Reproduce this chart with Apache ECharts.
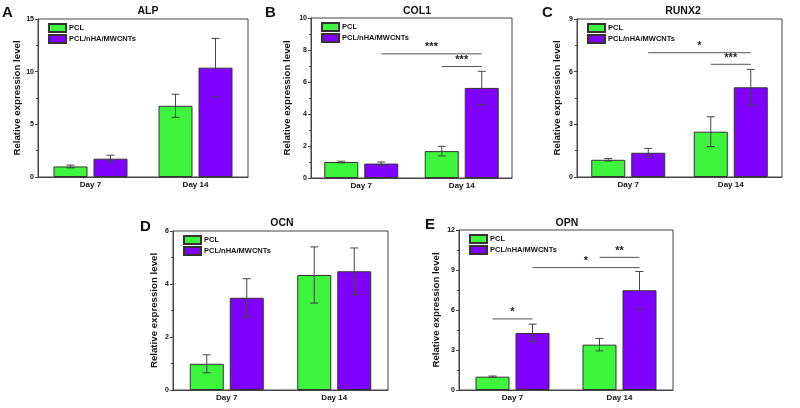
<!DOCTYPE html>
<html><head><meta charset="utf-8">
<script src="https://cdn.jsdelivr.net/npm/echarts@6/dist/echarts.min.js"></script>
<style>html,body{margin:0;padding:0;background:#fff}#c{width:800px;height:408px}</style>
</head><body><div id="c"></div>
<script>
// ---- data ----
const categories = ['Day 7', 'Day 14'];
const seriesNames = ['PCL', 'PCL/nHA/MWCNTs'];
const panelLetters = ['A', 'B', 'C', 'D', 'E'];
const panelTitles = ['ALP', 'COL1', 'RUNX2', 'OCN', 'OPN'];
const yAxisName = 'Relative expression level';

const alpPCL = [1.0, 6.76],   alpPCLErr = [0.13, 1.10];
const alpNano = [1.74, 10.38], alpNanoErr = [0.33, 2.78];
const col1PCL = [1.0, 1.68],  col1PCLErr = [0.05, 0.30];
const col1Nano = [0.90, 5.63], col1NanoErr = [0.10, 1.04];
const runx2PCL = [0.98, 2.58], runx2PCLErr = [0.07, 0.85];
const runx2Nano = [1.38, 5.11], runx2NanoErr = [0.25, 1.02];
const ocnPCL = [0.99, 4.34],  ocnPCLErr = [0.34, 1.06];
const ocnNano = [3.48, 4.48], ocnNanoErr = [0.72, 0.88];
const opnPCL = [1.0, 3.40],   opnPCLErr = [0.05, 0.47];
const opnNano = [4.28, 7.48], opnNanoErr = [0.66, 1.41];

const yMax = [15, 10, 9, 6, 12];
const yInterval = [5, 2, 3, 2, 3];

// significance brackets: a/b = [categoryIndex, seriesIndex]
const alpSig = [];
const col1Sig = [
  { a: [0, 1], b: [1, 1], y: 7.76, text: '***' },
  { a: [1, 0], b: [1, 1], y: 6.97, text: '***' }
];
const runx2Sig = [
  { a: [0, 1], b: [1, 1], y: 7.08, text: '*' },
  { a: [1, 0], b: [1, 1], y: 6.42, text: '***' }
];
const ocnSig = [];
const opnSig = [
  { a: [0, 0], b: [0, 1], y: 5.33, text: '*' },
  { a: [0, 1], b: [1, 1], y: 9.18, text: '*' },
  { a: [1, 0], b: [1, 1], y: 9.95, text: '**' }
];

// ---- layout / style ----
const panelData = [
  { pcl: alpPCL, pclErr: alpPCLErr, nano: alpNano, nanoErr: alpNanoErr, sig: alpSig },
  { pcl: col1PCL, pclErr: col1PCLErr, nano: col1Nano, nanoErr: col1NanoErr, sig: col1Sig },
  { pcl: runx2PCL, pclErr: runx2PCLErr, nano: runx2Nano, nanoErr: runx2NanoErr, sig: runx2Sig },
  { pcl: ocnPCL, pclErr: ocnPCLErr, nano: ocnNano, nanoErr: ocnNanoErr, sig: ocnSig },
  { pcl: opnPCL, pclErr: opnPCLErr, nano: opnNano, nanoErr: opnNanoErr, sig: opnSig }
];
const layout = [
  { left: 38,  top: 19,  width: 210, height: 158, nameGap: 15, letter: [2, 5],    title: [148, 6] },
  { left: 311, top: 18,  width: 201, height: 160, nameGap: 19, letter: [265, 5],  title: [417, 6] },
  { left: 577, top: 19,  width: 205, height: 158, nameGap: 15, letter: [542, 5],  title: [683, 6] },
  { left: 173, top: 231, width: 215, height: 159, nameGap: 14, letter: [140, 219], title: [282, 218] },
  { left: 459, top: 230, width: 214, height: 160, nameGap: 18, letter: [425, 217], title: [567, 218] }
];
const FONT = "'Liberation Sans', Arial, sans-serif";
const GREEN = '#3cf53c', PURPLE = '#8000ff';
const BAR_W = 34, BAR_GAP = 6;
const colors = [GREEN, PURPLE];
const barOffset = (k) => (k - 0.5) * (BAR_W + BAR_GAP);

const grid = [], xAxis = [], yAxis = [], series = [], legend = [], graphic = [];

layout.forEach((L, p) => {
  const D = panelData[p];
  grid.push({ left: L.left, top: L.top, width: L.width, height: L.height, show: true,
    borderColor: '#444', borderWidth: 1, backgroundColor: 'transparent' });
  xAxis.push({ gridIndex: p, type: 'category', data: categories,
    axisLine: { lineStyle: { color: '#444', width: 1 } },
    axisTick: { alignWithLabel: true, length: 3, lineStyle: { color: '#444' } },
    axisLabel: { color: '#111', fontFamily: FONT, fontWeight: 'bold', fontSize: 8, margin: 4 } });
  yAxis.push({ gridIndex: p, type: 'value', min: 0, max: yMax[p], interval: yInterval[p],
    name: yAxisName, nameLocation: 'middle', nameGap: L.nameGap, nameRotate: 90,
    nameTextStyle: { color: '#111', fontFamily: FONT, fontWeight: 'bold', fontSize: 9.7 },
    axisLine: { show: true, lineStyle: { color: '#444', width: 1 } },
    axisTick: { show: true, length: 3, lineStyle: { color: '#444' } },
    minorTick: { show: true, splitNumber: 2, length: 2, lineStyle: { color: '#444' } },
    splitLine: { show: false },
    axisLabel: { color: '#111', fontFamily: FONT, fontWeight: 'bold', fontSize: 7, margin: 4 } });

  const vals = [D.pcl, D.nano], errs = [D.pclErr, D.nanoErr];
  vals.forEach((v, k) => {
    series.push({ type: 'bar', name: seriesNames[k], xAxisIndex: p, yAxisIndex: p,
      data: v, barWidth: BAR_W, barGap: (BAR_GAP / BAR_W * 100) + '%',
      itemStyle: { color: colors[k], borderColor: '#333', borderWidth: 1 },
      emphasis: { disabled: true }, z: 2 });
  });
  vals.forEach((v, k) => {
    series.push({ type: 'custom', xAxisIndex: p, yAxisIndex: p, z: 5, silent: true,
      data: v.map((m, i) => [i, m - errs[k][i], m + errs[k][i]]),
      renderItem: (params, api) => {
        const lo = api.coord([api.value(0), api.value(1)]);
        const hi = api.coord([api.value(0), api.value(2)]);
        const x = lo[0] + barOffset(k), cw = 4;
        const st = { stroke: '#444', lineWidth: 1 };
        return { type: 'group', children: [
          { type: 'line', shape: { x1: x, y1: lo[1], x2: x, y2: hi[1] }, style: st },
          { type: 'line', shape: { x1: x - cw, y1: lo[1], x2: x + cw, y2: lo[1] }, style: st },
          { type: 'line', shape: { x1: x - cw, y1: hi[1], x2: x + cw, y2: hi[1] }, style: st }
        ] };
      } });
  });
  if (D.sig.length) {
    series.push({ type: 'custom', xAxisIndex: p, yAxisIndex: p, z: 6, silent: true,
      data: D.sig.map(s => [s.a[0], s.y]),
      renderItem: (params, api) => {
        const s = D.sig[params.dataIndex];
        const pa = api.coord([s.a[0], s.y]), pb = api.coord([s.b[0], s.y]);
        const x1 = pa[0] + barOffset(s.a[1]), x2 = pb[0] + barOffset(s.b[1]);
        return { type: 'group', children: [
          { type: 'line', shape: { x1: x1, y1: pa[1], x2: x2, y2: pa[1] }, style: { stroke: '#555', lineWidth: 1 } },
          { type: 'text', x: (x1 + x2) / 2, y: pa[1] - 1,
            style: { text: s.text, fill: '#222', font: 'bold 11px ' + FONT, textAlign: 'center', textVerticalAlign: 'bottom' } }
        ] };
      } });
  }
  legend.push({ orient: 'vertical', left: L.left + 10, top: L.top + 4, padding: 0,
    itemWidth: 17, itemHeight: 8, itemGap: 1, icon: 'rect',
    data: seriesNames, selectedMode: false,
    textStyle: { color: '#111', fontFamily: FONT, fontWeight: 'bold', fontSize: 7.5, lineHeight: 8, padding: [0, 0, 0, -2] } });
  graphic.push({ type: 'text', left: L.letter[0], top: L.letter[1],
    style: { text: panelLetters[p], font: 'bold 15px ' + FONT, fill: '#111' } });
  graphic.push({ type: 'text', x: L.title[0], y: L.title[1],
    style: { text: panelTitles[p], font: 'bold 10.5px ' + FONT, fill: '#111', textAlign: 'center' } });
});

const chart = echarts.init(document.getElementById('c'), null, { renderer: 'canvas' });
chart.setOption({ animation: false, backgroundColor: '#fff', grid, xAxis, yAxis, series, legend, graphic });
</script></body></html>
